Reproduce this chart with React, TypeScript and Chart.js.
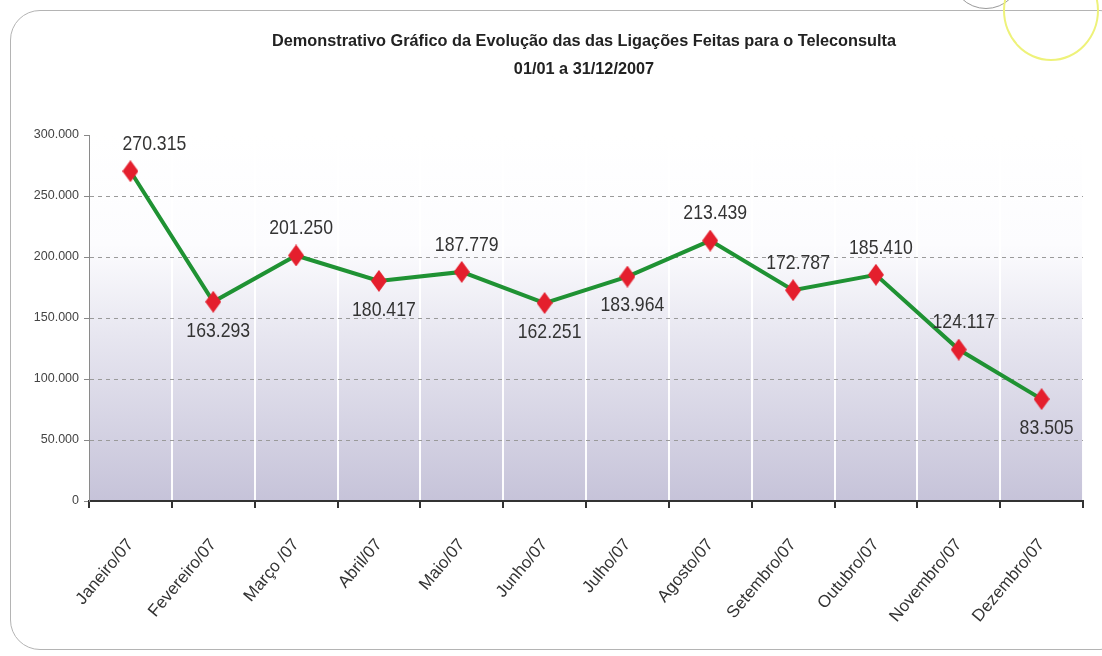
import { useEffect, useRef } from 'react';
import { Chart, registerables } from 'chart.js';

Chart.register(...registerables);

const categories = [
  'Janeiro/07', 'Fevereiro/07', 'Março /07', 'Abril/07', 'Maio/07', 'Junho/07',
  'Julho/07', 'Agosto/07', 'Setembro/07', 'Outubro/07', 'Novembro/07', 'Dezembro/07',
];
const ligacoes = [270315, 163293, 201250, 180417, 187779, 162251, 183964, 213439, 172787, 185410, 124117, 83505];
const yTicks = [0, 50000, 100000, 150000, 200000, 250000, 300000];
const titleLines = [
  'Demonstrativo Gráfico da Evolução das das Ligações Feitas para o Teleconsulta',
  '01/01 a 31/12/2007',
];
const labelSide = ['top', 'bottom', 'top', 'bottom', 'top', 'bottom', 'bottom', 'top', 'top', 'top', 'top', 'bottom'];

const SANS = "'Liberation Sans', Arial, sans-serif";

const fmt = (v: number) => String(Math.round(v)).replace(/\B(?=(\d{3})+(?!\d))/g, '.');

function makeDiamond(): HTMLCanvasElement {
  const c = document.createElement('canvas');
  c.width = 16;
  c.height = 22;
  const g = c.getContext('2d')!;
  g.beginPath();
  g.moveTo(8, 0);
  g.lineTo(16, 11);
  g.lineTo(8, 22);
  g.lineTo(0, 11);
  g.closePath();
  g.fillStyle = '#e41f2d';
  g.fill();
  return c;
}

const bgPlugin = {
  id: 'bgGradient',
  beforeDraw(chart: any) {
    const { ctx, chartArea: a } = chart;
    const grad = ctx.createLinearGradient(0, a.top, 0, a.bottom);
    grad.addColorStop(0, '#ffffff');
    grad.addColorStop(0.3, '#fcfcfe');
    grad.addColorStop(0.55, '#e7e6f0');
    grad.addColorStop(1, '#c6c3d9');
    ctx.save();
    ctx.fillStyle = grad;
    ctx.fillRect(a.left, a.top, a.right - a.left, a.bottom - a.top);
    ctx.restore();
  },
};

const titlePlugin = {
  id: 'twoLineTitle',
  afterDraw(chart: any) {
    const { ctx, chartArea: a } = chart;
    const cx = (a.left + a.right) / 2 - 2;
    ctx.save();
    ctx.fillStyle = '#222';
    ctx.textAlign = 'center';
    ctx.textBaseline = 'middle';
    ctx.font = `bold 16.3px ${SANS}`;
    ctx.fillText(titleLines[0], cx, 42);
    ctx.fillText(titleLines[1], cx, 70);
    ctx.restore();
  },
};

const labelPlugin = {
  id: 'pointLabels',
  afterDatasetsDraw(chart: any) {
    const { ctx } = chart;
    const meta = chart.getDatasetMeta(0);
    ctx.save();
    ctx.fillStyle = '#333';
    ctx.font = `21px ${SANS}`;
    ctx.textAlign = 'center';
    ctx.textBaseline = 'middle';
    meta.data.forEach((pt: any, i: number) => {
      const dy = labelSide[i] === 'top' ? -27 : 29;
      const dx = i === 0 ? 24 : 5;
      ctx.save();
      ctx.translate(pt.x + dx, pt.y + dy);
      ctx.scale(0.84, 1);
      ctx.fillText(fmt(ligacoes[i]), 0, 0);
      ctx.restore();
    });
    ctx.restore();
  },
};

export default function App() {
  const ref = useRef<HTMLCanvasElement>(null);

  useEffect(() => {
    if (!ref.current) return;
    const diamond = makeDiamond();
    const chart = new Chart(ref.current, {
      type: 'line',
      data: {
        labels: categories,
        datasets: [
          {
            data: ligacoes,
            borderColor: '#1f9233',
            borderWidth: 4,
            pointStyle: diamond as any,
            pointRadius: 10,
            pointHoverRadius: 10,
            tension: 0,
            fill: false,
          },
        ],
      },
      options: {
        animation: false,
        responsive: true,
        maintainAspectRatio: false,
        layout: { padding: { top: 135, left: 0, right: 19, bottom: 0 } },
        plugins: {
          legend: { display: false },
          title: { display: false },
          tooltip: { enabled: false },
        },
        scales: {
          x: {
            type: 'category',
            offset: true,
            afterFit(scale: any) {
              scale.height = 155;
            },
            grid: {
              offset: true,
              color: 'rgba(255,255,255,0.95)',
              lineWidth: 2,
              tickColor: '#333',
              tickLength: 7,
              drawOnChartArea: true,
            },
            border: { color: '#333', width: 2 },
            ticks: {
              autoSkip: false,
              maxRotation: 50,
              minRotation: 50,
              padding: 27,
              color: '#333',
              font: { family: SANS, size: 17 },
            },
          },
          y: {
            min: 0,
            max: 300000,
            afterFit(scale: any) {
              scale.width = 89;
            },
            afterBuildTicks(scale: any) {
              scale.ticks = yTicks.map((v) => ({ value: v }));
            },
            grid: {
              color: (c: any) => (c.tick && (c.tick.value === 300000 || c.tick.value === 0) ? 'rgba(0,0,0,0)' : '#9a9a9a'),
              lineWidth: 1,
              tickColor: '#888',
              tickLength: 5,
              tickBorderDash: [],
            },
            border: { color: '#8a8a8a', width: 1, dash: [4, 4] },
            ticks: {
              padding: 5,
              color: '#444',
              font: { family: SANS, size: 12.5 },
              callback: (v: any) => fmt(Number(v)),
            },
          },
        },
      },
      plugins: [bgPlugin, labelPlugin, titlePlugin],
    });
    return () => chart.destroy();
  }, []);

  return (
    <div style={{ position: 'absolute', left: 0, top: 0, width: 1102, height: 656, background: '#fff', overflow: 'hidden' }}>
      <div
        style={{
          position: 'absolute',
          left: 10,
          top: 10,
          width: 1120,
          height: 640,
          border: '1.5px solid #b4b4b4',
          borderRadius: 30,
          boxSizing: 'border-box',
        }}
      />
      <div
        style={{
          position: 'absolute',
          left: 951,
          top: -61,
          width: 70,
          height: 70,
          border: '1px solid #9a9a9a',
          borderRadius: '50%',
          boxSizing: 'border-box',
        }}
      />
      <div
        style={{
          position: 'absolute',
          left: 1003,
          top: -40,
          width: 96,
          height: 101,
          border: '2px solid #eef27a',
          borderRadius: '50%',
          boxSizing: 'border-box',
        }}
      />
      <canvas ref={ref} style={{ position: 'absolute', left: 0, top: 0, width: 1102, height: 656 }} />
    </div>
  );
}
